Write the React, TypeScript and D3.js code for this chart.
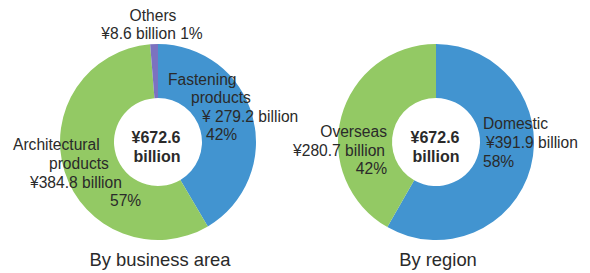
import React from "react";
import * as d3 from "d3";

const businessCategories = ["Fastening products", "Architectural products", "Others"];
const businessValues = [279.2, 384.8, 8.6];
const regionCategories = ["Domestic", "Overseas"];
const regionValues = [391.9, 280.7];
const chartTitles = ["By business area", "By region"];
const totalLabel = ["¥672.6", "billion"];

const COLORS: Record<string, string> = {
  "Fastening products": "#4294d0",
  "Architectural products": "#93c964",
  Others: "#7b72c0",
  Domestic: "#4294d0",
  Overseas: "#93c964",
};

const TEXT = "#2a2a2a";
const FONT = "'Liberation Sans', Arial, Helvetica, sans-serif";

type LabelLine = { text: string; x: number; y: number; anchor: string };

const pct = (v: number, tot: number) => `${Math.round((v / tot) * 100)}%`;

function Donut({ cx, cy, cats, vals }: { cx: number; cy: number; cats: string[]; vals: number[] }) {
  const data = cats.map((c, i) => ({ c, v: vals[i] }));
  const pie = d3.pie<{ c: string; v: number }>().sort(null).value((d) => d.v);
  const arc = d3.arc<d3.PieArcDatum<{ c: string; v: number }>>().innerRadius(44).outerRadius(98);
  return (
    <g transform={`translate(${cx},${cy})`}>
      {pie(data).map((a) => (
        <path key={a.data.c} d={arc(a) || ""} fill={COLORS[a.data.c]} />
      ))}
    </g>
  );
}

export default function App() {
  const bTot = d3.sum(businessValues);
  const rTot = d3.sum(regionValues);
  const leftLabels: LabelLine[] = [
    { text: "Others", x: 153, y: 15, anchor: "middle" },
    { text: `¥${businessValues[2]} billion ${pct(businessValues[2], bTot)}`, x: 152, y: 33, anchor: "middle" },
    { text: "Fastening", x: 168, y: 79, anchor: "start" },
    { text: "products", x: 191, y: 97, anchor: "start" },
    { text: `¥ ${businessValues[0]} billion`, x: 202, y: 116, anchor: "start" },
    { text: pct(businessValues[0], bTot), x: 206, y: 134, anchor: "start" },
    { text: "Architectural", x: 13, y: 144, anchor: "start" },
    { text: "products", x: 49, y: 163, anchor: "start" },
    { text: `¥${businessValues[1]} billion`, x: 30, y: 182, anchor: "start" },
    { text: pct(businessValues[1], bTot), x: 110, y: 200, anchor: "start" },
  ];
  const rightLabels: LabelLine[] = [
    { text: "Overseas", x: 387, y: 131, anchor: "end" },
    { text: `¥${regionValues[1]} billion`, x: 385, y: 150, anchor: "end" },
    { text: pct(regionValues[1], rTot), x: 387, y: 168, anchor: "end" },
    { text: "Domestic", x: 483, y: 123, anchor: "start" },
    { text: `¥${regionValues[0]} billion`, x: 486, y: 142, anchor: "start" },
    { text: pct(regionValues[0], rTot), x: 483, y: 161, anchor: "start" },
  ];
  return (
    <svg width={590} height={273} style={{ position: "absolute", left: 0, top: 0 }} fontFamily={FONT}>
      <rect width={590} height={273} fill="#fff" />
      <Donut cx={158} cy={142} cats={businessCategories} vals={businessValues} />
      <Donut cx={436} cy={142} cats={regionCategories} vals={regionValues} />
      {[...leftLabels, ...rightLabels].map((l, i) => (
        <text key={i} x={l.x} y={l.y} textAnchor={l.anchor} dominantBaseline="central" fontSize={15.6} fill={TEXT}>
          {l.text}
        </text>
      ))}
      {[156, 435].map((x, i) => (
        <g key={i}>
          <text x={x} y={137} textAnchor="middle" dominantBaseline="central" fontSize={16} fontWeight="bold" fill={TEXT}>
            {totalLabel[0]}
          </text>
          <text x={x + 1} y={156} textAnchor="middle" dominantBaseline="central" fontSize={16} fontWeight="bold" fill={TEXT}>
            {totalLabel[1]}
          </text>
        </g>
      ))}
      <text x={160} y={259} textAnchor="middle" dominantBaseline="central" fontSize={18.4} fill={TEXT}>
        {chartTitles[0]}
      </text>
      <text x={438} y={259} textAnchor="middle" dominantBaseline="central" fontSize={18.4} fill={TEXT}>
        {chartTitles[1]}
      </text>
    </svg>
  );
}
